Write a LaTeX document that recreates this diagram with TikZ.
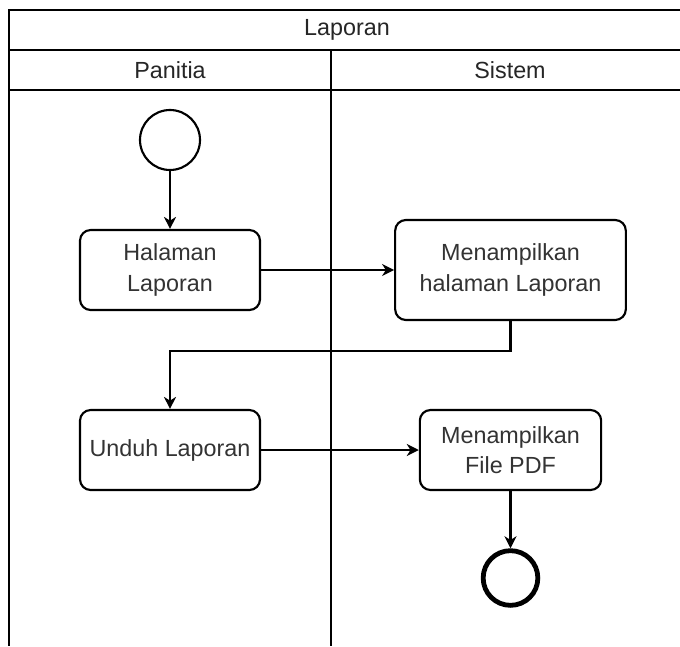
\documentclass[tikz,border=0pt]{standalone}
\usepackage{fontspec}
\setmainfont{Liberation Sans}
\usetikzlibrary{arrows.meta}
\begin{document}
\begin{tikzpicture}[x=0.75pt,y=-0.75pt,
  lane/.style={draw=black, line width=1.6pt},
  label/.style={font=\fontsize{17.5}{23}\selectfont, text=black!85},
  action/.style={draw=black, line width=1.6pt, rounded corners=8pt, fill=white,
    align=center, inner sep=0pt, font=\fontsize{17.5}{23}\selectfont, text=black!80},
  startnode/.style={circle, draw=black, line width=1.6pt, fill=white, minimum size=45pt, inner sep=0pt},
  endnode/.style={circle, draw=black, line width=3.6pt, fill=white, minimum size=41pt, inner sep=0pt},
  flow/.style={draw=black, line width=1.6pt, -{Stealth[length=9pt,width=9pt,inset=2.8pt]}}
]
\useasboundingbox (0,0) rectangle (680,646);
\fill[white] (0,0) rectangle (680,646);

% swimlane frame
\draw[lane] (680,10) -- (9,10) -- (9,646);
\draw[lane] (9,50) -- (680,50);
\draw[lane] (9,90) -- (680,90);
\draw[lane] (331,50) -- (331,646);

\node[label] (title) at (347,30) {Laporan};
\node[label] (lanea) at (170,70) {Panitia};
\node[label] (laneb) at (510,70) {Sistem};

% activities
\node[startnode] (start) at (170,140) {};
\node[action, minimum width=135pt, minimum height=60pt] (halaman) at (170,270) {Halaman\\Laporan};
\node[action, minimum width=173pt, minimum height=75pt] (tampil) at (510.5,270) {Menampilkan\\halaman Laporan};
\node[action, minimum width=135pt, minimum height=60pt] (unduh) at (170,450) {Unduh Laporan};
\node[action, minimum width=136pt, minimum height=60pt] (pdf) at (510.5,450) {Menampilkan\\File PDF};
\node[endnode] (stop) at (510.5,578) {};

% control flow
\draw[flow] (start) -- (halaman);
\draw[flow] (halaman) -- (tampil);
\draw[flow] (tampil.south) -- ++(0,30) -| (unduh.north);
\draw[flow] (unduh) -- (pdf);
\draw[flow] (pdf) -- (stop);
\end{tikzpicture}
\end{document}
